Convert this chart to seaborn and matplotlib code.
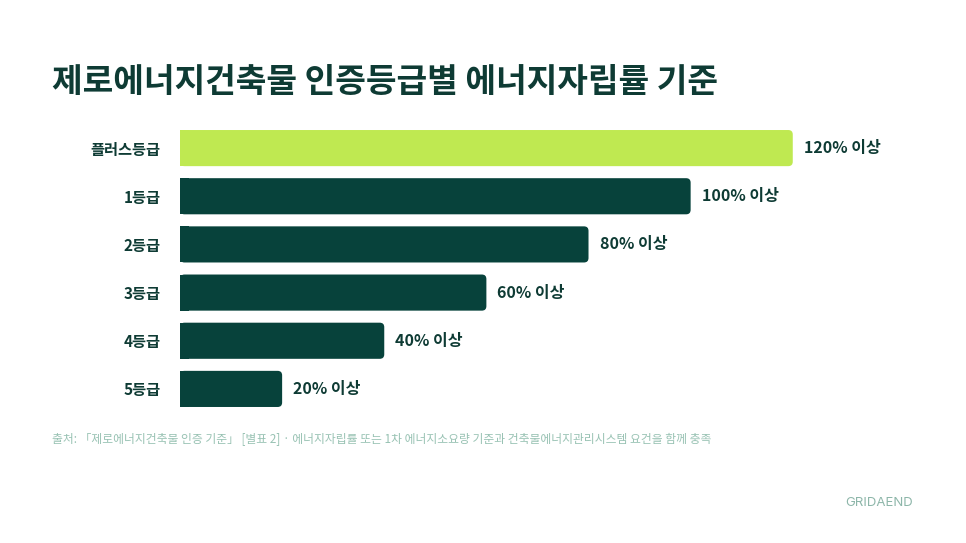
import matplotlib
matplotlib.use('Agg')
import matplotlib.pyplot as plt
from matplotlib.patches import FancyBboxPatch, Rectangle
import seaborn as sns
import pandas as pd

grades = ['플러스등급', '1등급', '2등급', '3등급', '4등급', '5등급']
rates = [120, 100, 80, 60, 40, 20]
title = '제로에너지건축물 인증등급별 에너지자립률 기준'
source = '출처: 「제로에너지건축물 인증 기준」 [별표 2] · 에너지자립률 또는 1차 에너지소요량 기준과 건축물에너지관리시스템 요건을 함께 충족'
brand = 'GRIDAEND'

LIME = '#bfe951'
DARK = '#07423b'
TEXT = '#0e3b34'

sns.set_theme(style='white')
plt.rcParams['font.family'] = ['Noto Sans CJK KR', 'DejaVu Sans']

df = pd.DataFrame({'grade': grades, 'rate': rates})
colors = [LIME] + [DARK] * (len(grades) - 1)

fig = plt.figure(figsize=(9.66, 5.43), dpi=100)
W, H = 966, 543
ax = fig.add_axes([180 / W, 1 - 413 / H, 720 / W, 289 / H])

sns.barplot(data=df, x='rate', y='grade', hue='grade', palette=colors,
            legend=False, width=0.75, ax=ax, saturation=1)
ax.set_xlim(0, 141)
ax.set_ylim(len(grades) - 0.5, -0.5)
for s in ax.spines.values():
    s.set_visible(False)
ax.set_xticks([])
ax.set_xlabel('')
ax.set_ylabel('')
ax.tick_params(axis='y', length=0, pad=14)
for lab in ax.get_yticklabels():
    lab.set_fontsize(11)
    lab.set_fontweight('bold')
    lab.set_color(TEXT)

# rounded right ends, square left ends
fig.canvas.draw()
x0, y0 = ax.transData.transform((0, 0))
x1, y1 = ax.transData.transform((1, 1))
px_x = abs(x1 - x0)
px_y = abs(y1 - y0)
r = 4.5 / px_x
aspect = px_x / px_y
for p in list(ax.patches):
    x, y = p.get_x(), p.get_y()
    w, h = p.get_width(), p.get_height()
    c = p.get_facecolor()
    p.remove()
    ax.add_patch(FancyBboxPatch((x, y), w, h,
                                boxstyle=f'round,pad=0,rounding_size={r}',
                                mutation_aspect=aspect,
                                facecolor=c, edgecolor='none'))
    ax.add_patch(Rectangle((x, y), 2 * r, h, facecolor=c, edgecolor='none'))

for i, v in enumerate(rates):
    ax.text(v + 11 / px_x, i, f'{v}% 이상', va='center', ha='left',
            fontsize=11.5, fontweight='bold', color=TEXT)

fig.text(52 / W, 1 - 82 / H, title, fontsize=24, fontweight='bold',
         color=TEXT, va='center', ha='left')
fig.text(52 / W, 1 - 440 / H, source, fontsize=8.5, color='#98c2b3',
         va='center', ha='left')
fig.text(913 / W, 1 - 503 / H, brand, fontsize=9.5, color='#8db6a9',
         va='center', ha='right', family=['Inter', 'DejaVu Sans'])

fig.savefig('out.png', dpi=100)
